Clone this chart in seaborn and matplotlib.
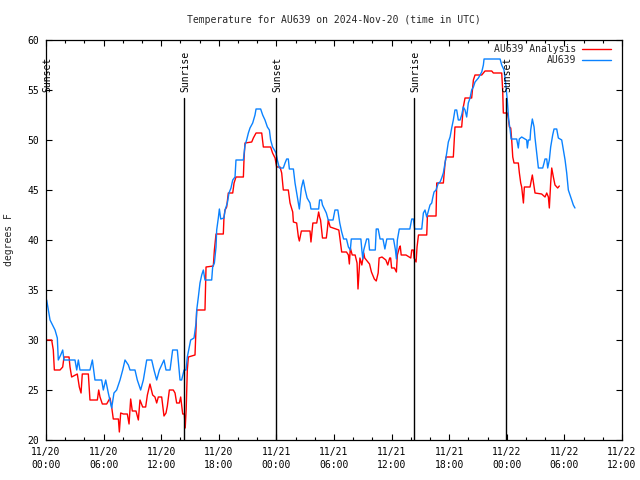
import matplotlib
matplotlib.use("Agg")
import matplotlib.pyplot as plt
from matplotlib.ticker import MultipleLocator
import seaborn as sns

# ---------------- data (hours since 11/20 00:00 UTC, degrees F) ----------------
red_h = [0.07, 0.59, 0.76, 0.87, 1.46, 1.74, 1.875, 2.4, 2.5, 2.67, 3.26, 3.47, 3.65, 3.78,
         4.41, 4.58, 5.35, 5.49, 5.625, 5.87, 6.32, 6.67, 6.84, 7.01, 7.54, 7.64, 7.78, 8.06,
         8.47, 8.65, 8.82, 8.99, 9.375, 9.62, 9.79, 10.07, 10.38, 10.56, 10.83, 11.11, 11.35,
         11.53, 11.7, 12.05, 12.29, 12.5, 12.64, 12.85, 13.26, 13.44, 13.61, 13.89, 14.03,
         14.24, 14.41, 14.5, 14.6, 14.72, 14.83, 15.52, 15.63, 15.7, 16.56, 16.67, 17.43,
         17.54, 17.71, 18.47, 18.54, 18.65, 18.82, 18.99, 19.45, 19.59, 19.79, 20.56, 20.63,
         20.73, 21.43, 21.6, 21.88, 22.47, 22.64, 23.4, 23.6, 23.86, 24.03, 24.38, 24.55,
         24.72, 25.24, 25.42, 25.7, 25.77, 26.11, 26.29, 26.39, 26.6, 27.5, 27.6, 27.8, 28.2,
         28.4, 28.5, 28.6, 28.8, 29.2, 29.3, 29.4, 29.6, 30.2, 30.5, 30.6, 30.8, 31.3, 31.5,
         31.6, 31.7, 31.9, 32.2, 32.4, 32.5, 32.6, 32.7, 32.9, 33.1, 33.2, 33.7, 33.9, 34.2,
         34.4, 34.6, 34.7, 35.0, 35.4, 35.6, 35.8, 35.9, 36.0, 36.3, 36.5, 36.6, 36.8, 36.9,
         37.0, 37.5, 38.0, 38.1, 38.27, 38.34, 38.55, 38.65, 38.8, 39.66, 39.73, 40.63, 40.7,
         41.39, 41.57, 41.67, 42.43, 42.6, 43.3, 43.47, 43.65, 44.34, 44.52, 44.69, 45.39,
         45.56, 45.73, 46.43, 46.6, 47.47, 47.57, 47.64, 48.06, 48.16, 48.27, 48.41, 48.51,
         48.62, 48.75, 49.2, 49.31, 49.45, 49.55, 49.66, 49.73, 49.83, 50.42, 50.66, 50.77,
         50.94, 51.63, 51.98, 52.16, 52.33, 52.43, 52.57, 52.68, 52.85, 53.02, 53.2, 53.3,
         53.47]
red_t = [30, 30, 29, 27, 27, 27.3, 28.3, 28.3, 27.3, 26.3, 26.6, 25.3, 24.7, 26.6,
         26.6, 24, 24, 25, 24.3, 23.6, 23.6, 24.2, 23.3, 22.1, 22.1, 20.8, 22.7, 22.6,
         22.6, 21.6, 24.1, 22.9, 22.9, 22, 24, 23.3, 23.3, 24.5, 25.6, 24.5, 24.3,
         23.7, 24.3, 24.3, 22.4, 22.7, 23.4, 25, 25, 24.7, 23.7, 23.7, 24.3,
         22.6, 22.6, 21.2, 23, 27, 28.3, 28.5, 31.3, 33, 33, 37.3, 37.4,
         39, 40.6, 40.6, 42.3, 43, 43.3, 44.7, 44.7, 45.7, 46.3, 46.3, 48.2,
         49.7, 49.8, 50.2, 50.7, 50.7, 49.3, 49.3, 48.7, 48.2, 47.3, 47.3, 46.7,
         45, 45, 43.7, 42.8, 41.8, 41.7, 40.3, 39.9, 40.9, 40.9, 39.8, 41.7, 41.7,
         42.8, 42.3, 42, 40.2, 40.2, 41, 42, 41.3, 41.1, 41, 40.3, 38.8, 38.8, 38.5,
         37.6, 39.2, 38.5, 38.5, 37.7, 35.1, 36.7, 38.2, 37.5, 38.7, 38.2, 37.6, 36.8, 36.1,
         35.9, 36.7, 38.2, 38.3, 38, 37.5, 38.2, 38.2, 37.2, 37.2, 36.8, 38.5, 39.2, 39.4,
         38.5, 38.5, 38.2, 39, 39, 38.2, 37.8, 39.3, 40.5, 40.5, 42.4, 42.4, 45.7,
         45.7, 47.7, 48.3, 48.3, 51.3, 51.3, 53.3, 54.2, 54.2, 56, 56.5, 56.5,
         56.7, 56.9, 56.9, 56.7, 56.7, 55, 52.7, 52.7, 52.2, 51.3, 51.2, 50,
         48.3, 47.7, 47.7, 46.7, 45.7, 45.3, 44.3, 43.7, 45.3, 45.3, 46.5, 45.8,
         44.7, 44.6, 44.3, 44.7, 44.3, 43.2, 45.7, 47.2, 46.3, 45.5, 45.3, 45.2,
         45.4]

blue_h = [0.07, 0.42, 0.94, 1.18, 1.28, 1.53, 1.74, 1.875, 3.02, 3.2, 3.37, 3.54, 4.58, 4.83,
          5.1, 5.8, 5.97, 6.22, 6.49, 6.84, 7.08, 7.36, 7.71, 7.99, 8.23, 8.58, 8.75, 9.27,
          9.51, 9.86, 10.14, 10.49, 11.01, 11.25, 11.53, 11.81, 12.29, 12.5, 12.92, 13.19,
          13.68, 13.96, 14.13, 14.38, 14.59, 14.72, 14.93, 15.07, 15.42, 15.63, 15.7, 15.87,
          16.04, 16.22, 16.39, 16.56, 17.26, 17.36, 17.54, 17.71, 17.78, 17.95, 18.06, 18.2,
          18.54, 18.65, 18.89, 19.06, 19.27, 19.45, 19.69, 19.79, 20.56, 20.73, 20.9, 21.08,
          21.25, 21.53, 21.77, 21.88, 22.36, 22.57, 22.81, 23.06, 23.27, 23.4, 23.6, 23.79,
          23.96, 24.1, 24.31, 24.72, 24.9, 25.07, 25.24, 25.35, 25.77, 25.94, 26.11, 26.29,
          26.39, 26.6, 26.8, 27.0, 27.2, 27.5, 27.6, 28.4, 28.5, 28.7, 28.8, 29.2, 29.4, 29.9,
          30.1, 30.4, 30.6, 30.8, 31.0, 31.3, 31.5, 31.7, 31.8, 32.8, 32.9, 33.0, 33.1, 33.4,
          33.6, 33.7, 34.3, 34.4, 34.6, 34.8, 35.1, 35.3, 35.5, 36.2, 36.4, 36.5, 36.6, 36.8,
          37.9, 38.1, 38.27, 38.4, 39.14, 39.31, 39.48, 39.66, 40.0, 40.18, 40.28, 40.42,
          40.63, 40.87, 41.05, 41.22, 41.39, 41.57, 41.74, 41.91, 42.09, 42.26, 42.43, 42.6,
          42.78, 42.95, 43.13, 43.3, 43.47, 43.65, 43.82, 43.99, 44.17, 44.34, 44.52, 44.69,
          44.86, 45.04, 45.21, 45.39, 45.56, 45.63, 47.3, 47.47, 47.71, 47.9, 48.05, 48.2,
          48.35, 48.45, 49.03, 49.2, 49.3, 49.55, 49.9, 50.07, 50.14, 50.25, 50.42, 50.49,
          50.66, 50.84, 50.94, 51.11, 51.29, 51.74, 51.88, 51.98, 52.16, 52.26, 52.43, 52.57,
          52.78, 52.92, 53.2, 53.37, 53.72, 53.9, 54.07, 54.24, 54.41, 54.59, 54.76, 54.93,
          55.1]
blue_t = [34, 32, 31, 30.2, 28, 28.5, 29, 28, 28, 27, 28, 27, 27, 28,
          26, 26, 25, 26, 24.7, 23.2, 24.7, 25, 26, 27, 28, 27.5, 27, 27,
          26, 25, 26, 28, 28, 27, 26, 27, 28, 27, 27, 29,
          29, 26, 26, 27, 27, 28.3, 29.3, 30, 30.2, 31.7, 33, 34.3,
          35.7, 36.5, 37, 36, 36, 37.3, 37.7, 39.3, 41, 42.2, 43.1, 42.1,
          42.2, 43, 43.7, 44.7, 45.2, 46, 46.3, 48, 48, 49.5, 50, 50.7,
          51.2, 51.7, 52.5, 53.1, 53.1, 52.5, 52, 51.3, 51, 50, 49.3, 49,
          48.7, 48, 47.2, 47.2, 47.7, 48.1, 48.1, 47.1, 47.1, 45.7, 44.7, 43.7,
          43.1, 45.2, 46, 45, 44.2, 43.7, 43.1, 43.1, 44, 44, 43.5, 42.7, 42, 42,
          43, 43, 41.7, 40.8, 40.1, 40.1, 39.3, 39, 40.1, 40.1, 39, 38.1, 39, 40.1,
          40.1, 39, 39, 41.1, 41.1, 40.1, 40.1, 39.1, 40.1, 40.1, 39, 38.1, 40, 41.1,
          41.1, 42.1, 42.1, 41.1, 41.1, 42.7, 43, 42.3, 43.5, 43.7, 44.2, 44.8,
          45, 45.7, 45.8, 46.2, 46.7, 47.7, 48.7, 49.8, 50.3, 51.2, 52, 53,
          53, 52, 52, 52.5, 53.3, 53, 52.3, 53.7, 54.2, 55, 55.3, 55.8,
          56, 56.2, 56.5, 56.8, 57.5, 58.1, 58.1, 57.5, 57, 55.5, 54, 52,
          51, 50.1, 50.1, 49.2, 50.1, 50.3, 50.1, 50, 49.2, 50, 50, 51,
          52.1, 51.3, 50.2, 48.7, 47.2, 47.2, 47.7, 48.1, 48.1, 47.2, 48, 49.3,
          50.5, 51.1, 51.1, 50.2, 50, 49, 48, 46.7, 45, 44.5, 44, 43.5,
          43.2]

sun_h = [0.0, 14.38, 23.96, 38.33, 47.92]
sun_labels = ["Sunset", "Sunrise", "Sunset", "Sunrise", "Sunset"]

x_ticks = [0, 6, 12, 18, 24, 30, 36, 42, 48, 54, 60]
x_tick_labels = ["11/20\n00:00", "11/20\n06:00", "11/20\n12:00", "11/20\n18:00",
                 "11/21\n00:00", "11/21\n06:00", "11/21\n12:00", "11/21\n18:00",
                 "11/22\n00:00", "11/22\n06:00", "11/22\n12:00"]
y_ticks = [20, 25, 30, 35, 40, 45, 50, 55, 60]

series_names = ["AU639 Analysis", "AU639"]
title = "Temperature for AU639 on 2024-Nov-20 (time in UTC)"

# ---------------- style ----------------
sns.set_style("ticks")
plt.rcParams["font.family"] = ["DejaVu Sans Mono"]
plt.rcParams["font.size"] = 7

RED = "#ff0000"
BLUE = "#0a82ff"

fig = plt.figure(figsize=(6.4, 4.8), dpi=100)
ax = fig.add_axes([46 / 640, 40 / 480, 576 / 640, 400 / 480])

sns.lineplot(x=red_h, y=red_t, ax=ax, color=RED, lw=1.0, estimator=None, sort=False,
             label=series_names[0])
sns.lineplot(x=blue_h, y=blue_t, ax=ax, color=BLUE, lw=1.0, estimator=None, sort=False,
             label=series_names[1])

ax.set_xlim(0, 60)
ax.set_ylim(20, 60)

# sunrise / sunset markers
for h, lab in zip(sun_h, sun_labels):
    if h > 0:
        ax.plot([h, h], [20, 54.2], color="black", lw=1.0, zorder=3)
    ax.text(h + 0.15, 54.8, lab, rotation=90, ha="center", va="bottom",
            fontsize=7, color="black", zorder=4)

ax.set_xticks(x_ticks)
ax.set_xticklabels(x_tick_labels, linespacing=1.35)
ax.xaxis.set_minor_locator(MultipleLocator(2))
ax.set_yticks(y_ticks)
ax.set_yticklabels([str(v) for v in y_ticks])

ax.tick_params(axis="both", which="both", direction="in", top=True, right=True,
               colors="black", width=0.8, labelsize=7)
ax.tick_params(axis="both", which="major", length=4)
ax.tick_params(axis="both", which="minor", length=2)
ax.tick_params(axis="x", which="major", pad=5)
ax.tick_params(axis="y", which="major", pad=5)

for sp in ax.spines.values():
    sp.set_color("black")
    sp.set_linewidth(0.9)
    sp.set_visible(True)

ax.set_xlabel("")
ax.set_ylabel("degrees F", fontsize=7)
ax.yaxis.set_label_coords((14 - 46) / 576, 0.5)

ax.set_title(title, fontsize=7, pad=12)

leg = ax.legend(loc="upper right", bbox_to_anchor=((611 - 46) / 576, (440 - 44) / 400),
                frameon=False, markerfirst=False, borderpad=0, borderaxespad=0,
                handlelength=3.0, handletextpad=0.6, labelspacing=0.15, fontsize=7)

fig.savefig("out.png", dpi=100)
